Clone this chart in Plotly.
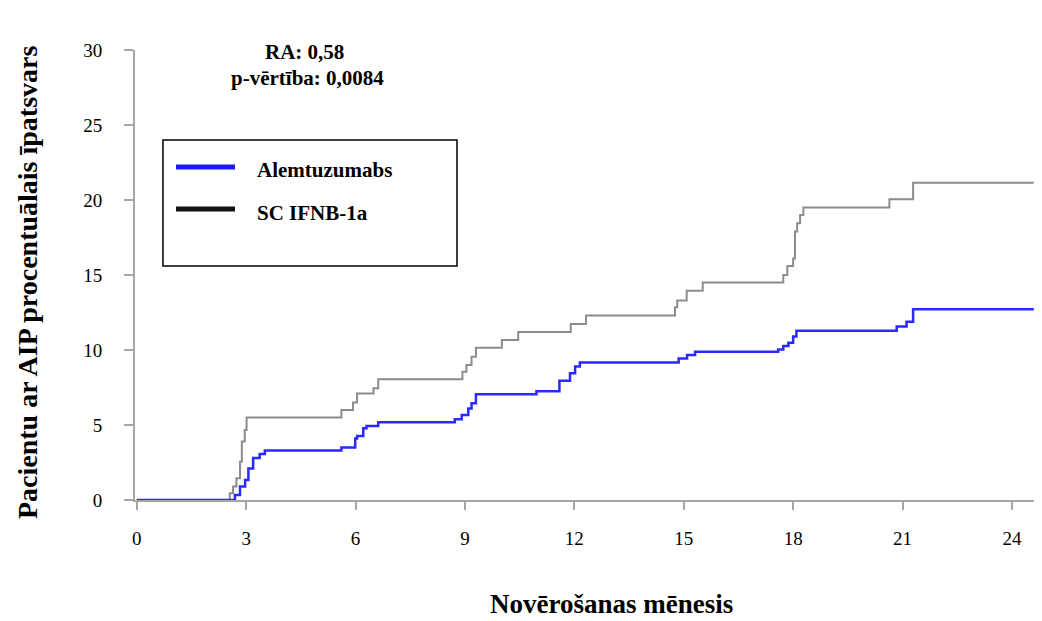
import plotly.graph_objects as go

# Step-change times (months) and cumulative percentages
alem_t = [0, 2.69, 2.83, 2.97, 3.06, 3.19, 3.37, 3.51, 5.61, 5.99, 6.04, 6.21, 6.30, 6.62,
          8.72, 8.91, 9.09, 9.18, 9.30, 10.96, 11.59, 11.88, 12.02, 12.15, 14.86, 15.09, 15.31,
          17.59, 17.73, 17.87, 18.00, 18.09, 20.84, 21.11, 21.29, 24.60]
alem_v = [0, 0.33, 0.9, 1.33, 2.1, 2.8, 3.07, 3.3, 3.5, 4.1, 4.27, 4.78, 4.93, 5.18,
          5.38, 5.67, 6.1, 6.45, 7.05, 7.25, 7.95, 8.45, 8.9, 9.16, 9.44, 9.67, 9.89,
          10.04, 10.27, 10.49, 10.9, 11.29, 11.56, 11.89, 12.71, 12.71]

ifnb_t = [0, 2.55, 2.64, 2.73, 2.83, 2.88, 2.96, 3.01, 5.61, 5.93, 6.04, 6.49, 6.62,
          8.93, 9.04, 9.18, 9.30, 10.01, 10.46, 11.90, 12.32, 14.76, 14.82, 15.08, 15.52,
          17.73, 17.84, 18.00, 18.05, 18.11, 18.19, 18.28, 20.64, 21.29, 24.60]
ifnb_v = [0, 0.45, 0.9, 1.45, 2.55, 3.9, 4.67, 5.5, 6.0, 6.5, 7.1, 7.45, 8.05,
          8.55, 9.0, 9.55, 10.15, 10.67, 11.2, 11.73, 12.3, 12.85, 13.3, 13.95, 14.5,
          15.0, 15.6, 16.1, 17.9, 18.45, 19.0, 19.5, 20.05, 21.15, 21.15]

x_ticks = [0, 3, 6, 9, 12, 15, 18, 21, 24]
y_ticks = [0, 5, 10, 15, 20, 25, 30]

series_names = ["Alemtuzumabs", "SC IFNB-1a"]

FONT = "Liberation Serif"
AXIS_COLOR = "#a6a6a6"

fig = go.Figure()
fig.add_trace(go.Scatter(x=ifnb_t, y=ifnb_v, mode="lines", line_shape="hv",
                         line=dict(color="#8c8c8c", width=2), name=series_names[1],
                         showlegend=False))
fig.add_trace(go.Scatter(x=alem_t, y=alem_v, mode="lines", line_shape="hv",
                         line=dict(color="#2a2aff", width=2.5), name=series_names[0],
                         showlegend=False))

# page body adds an 8px offset; compensate in size/margins
fig.update_layout(
    width=1034, height=613,
    margin=dict(l=127, r=2, t=42, b=121),
    paper_bgcolor="white", plot_bgcolor="white",
    font=dict(family=FONT, color="black"),
    xaxis=dict(range=[-0.05, 24.77], tickvals=x_ticks, ticktext=[str(v) for v in x_ticks],
               showgrid=False, zeroline=False, showline=True, linecolor=AXIS_COLOR, linewidth=2,
               ticks="outside", ticklen=8, tickwidth=2, tickcolor=AXIS_COLOR,
               tickfont=dict(family=FONT, size=19, color="black"), ticklabelstandoff=12),
    yaxis=dict(range=[0, 30], tickvals=y_ticks, ticktext=[str(v) for v in y_ticks],
               showgrid=False, zeroline=False, showline=True, linecolor=AXIS_COLOR, linewidth=2,
               ticks="outside", ticklen=9, tickwidth=2, tickcolor=AXIS_COLOR,
               tickfont=dict(family=FONT, size=19, color="black"), ticklabelstandoff=18),
    showlegend=False,
)

# Legend drawn as a framed box
fig.add_shape(type="rect", xref="paper", yref="paper", x0=0.0309, x1=0.3558, y0=0.52, y1=0.80,
              line=dict(color="black", width=1.5), fillcolor="rgba(0,0,0,0)")
fig.add_shape(type="line", xref="paper", yref="paper", x0=0.0453, x1=0.1105, y0=0.74, y1=0.74,
              line=dict(color="#1a1aff", width=5))
fig.add_shape(type="line", xref="paper", yref="paper", x0=0.0453, x1=0.1105, y0=0.6467, y1=0.6467,
              line=dict(color="#111111", width=5))
fig.add_annotation(xref="paper", yref="paper", x=0.1326, y=0.7333, xanchor="left", yanchor="middle",
                   text="<b>" + series_names[0] + "</b>", showarrow=False,
                   font=dict(family=FONT, size=21, color="black"))
fig.add_annotation(xref="paper", yref="paper", x=0.1326, y=0.6378, xanchor="left", yanchor="middle",
                   text="<b>" + series_names[1] + "</b>", showarrow=False,
                   font=dict(family=FONT, size=21, color="black"))

# Statistics text
fig.add_annotation(xref="paper", yref="paper", x=0.1878, y=0.9956, xanchor="center", yanchor="middle",
                   text="<b>RA: 0,58</b>", showarrow=False,
                   font=dict(family=FONT, size=21, color="black"))
fig.add_annotation(xref="paper", yref="paper", x=0.191, y=0.9378, xanchor="center", yanchor="middle",
                   text="<b>p-vērtība: 0,0084</b>", showarrow=False,
                   font=dict(family=FONT, size=21, color="black"))

# Axis titles
fig.add_annotation(xref="paper", yref="paper", x=-0.1193, y=0.4844, xanchor="center", yanchor="middle",
                   text="<b>Pacientu ar AIP procentuālais īpatsvars</b>", textangle=-90, showarrow=False,
                   font=dict(family=FONT, size=28, color="black"))
fig.add_annotation(xref="paper", yref="paper", x=0.526, y=-0.232, xanchor="center", yanchor="middle",
                   text="<b>Novērošanas mēnesis</b>", showarrow=False,
                   font=dict(family=FONT, size=27, color="black"))

fig.write_html("out.html")
